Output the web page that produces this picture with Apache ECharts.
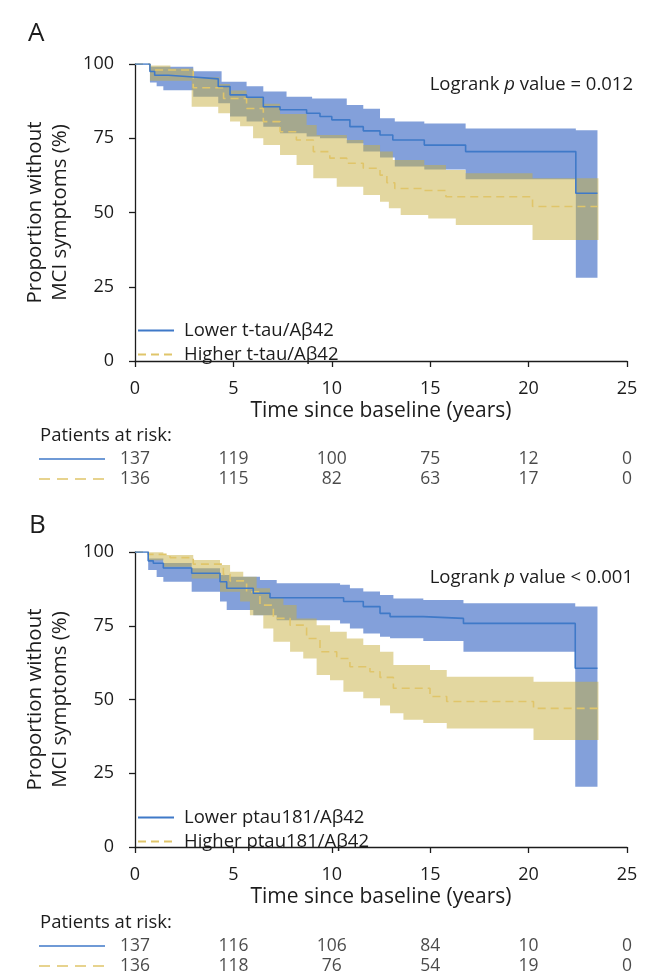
<!DOCTYPE html>
<html>
<head>
<meta charset="utf-8">
<script src="https://cdn.jsdelivr.net/npm/echarts@6/dist/echarts.min.js"></script>
<style>
  html, body { margin: 0; padding: 0; background: #fff; }
  #chart { width: 649px; height: 978px; }
</style>
</head>
<body>
<div id="chart"></div>
<script>
// step curves: [time (years), % without MCI symptoms], value holds until next point
const A_LOW_EST = [[0,100],[0.76,97.5],[1.0,96.2],[1.7,95.6],[2.96,95],[4.23,92.4],[4.83,89.6],[5.67,88.8],[6.52,85.6],[7.37,84.6],[8.72,83.4],[9.4,82.3],[10.0,81.2],[10.92,78.9],[11.6,77.5],[12.45,76.1],[13.1,74.4],[14.7,72.7],[16.8,70.5],[22.4,56.5],[23.5,56.5]]
const A_LOW_UP = [[0,100],[0.76,99.1],[2.96,97.6],[4.4,94],[5.67,92.5],[6.52,90.7],[7.7,89],[9.0,88.4],[10.76,86.2],[11.6,84.9],[12.45,81.7],[13.2,80.6],[14.7,80],[16.8,78.3],[22.4,77.7],[23.5,77.7]]
const A_LOW_LO = [[0,100],[0.76,93.8],[1.1,92.5],[1.44,91.2],[2.96,89],[4.23,86.8],[4.83,82.3],[5.67,80.6],[6.52,78.9],[7.37,76.7],[8.72,75.6],[9.4,75],[10.76,73.3],[11.6,70.5],[12.45,68.5],[13.2,65.5],[14.7,64.5],[16.8,61.2],[22.4,28],[23.5,28]]
const A_HIGH_EST = [[0,100],[0.76,98],[2.96,92],[4.5,88.4],[5.67,85],[6.52,80.6],[7.37,77.2],[8.2,74.4],[9.06,70.5],[9.9,68.3],[10.76,66.6],[11.6,64.9],[12.45,62.6],[12.8,60],[13.2,58.1],[14.7,57.4],[15.8,55.3],[20.2,52],[23.5,52]]
const A_HIGH_UP = [[0,100],[0.76,99.5],[1.8,98.5],[2.96,95.5],[4.3,93.3],[4.83,91.1],[5.67,88.8],[6.52,86.6],[7.37,83.2],[8.72,79.5],[9.23,76.1],[10.76,74.4],[11.6,72.7],[12.45,70.5],[13.1,67.7],[14.7,66],[15.8,64.3],[16.8,63.2],[20.2,61.5],[23.55,61.5]]
const A_HIGH_LO = [[0,100],[0.76,94.4],[2.88,85.6],[4.23,83.4],[4.83,80.6],[5.34,79],[6.0,75],[6.52,72.7],[7.37,69.4],[8.21,66],[9.06,61.5],[10.25,58.7],[11.6,55.9],[12.45,53.6],[12.9,51.4],[13.5,49.2],[14.9,48],[16.3,45.8],[20.2,40.7],[23.55,40.7]]

const B_LOW_EST = [[0,100],[0.67,97],[0.93,96.2],[1.44,94.6],[2.88,92.8],[4.32,89.9],[4.66,87.7],[6.01,86],[6.86,84.5],[10.6,83.2],[11.6,81.5],[12.45,79.2],[12.96,78.1],[14.65,77.5],[16.69,75.8],[22.37,60.6],[23.5,60.6]]
const B_LOW_UP = [[0,100],[0.67,97.8],[1.44,96.3],[2.88,94.5],[4.32,92.2],[4.83,91.6],[6.35,90.5],[7.2,89.4],[10.42,88.9],[10.92,87.7],[11.6,86.6],[12.45,85.4],[13.13,84.2],[14.65,83.7],[16.69,82.6],[22.37,81.5],[23.5,81.5]]
const B_LOW_LO = [[0,100],[0.67,93.9],[1.1,91.5],[1.44,89.9],[2.88,86.5],[4.32,83.2],[4.66,80.3],[6.01,78.6],[7.2,76.9],[10.42,75.8],[10.92,74.1],[11.6,72.4],[12.45,71.3],[12.96,70.8],[14.65,69.8],[16.69,66.2],[22.37,20.4],[23.5,20.4]]
const B_HIGH_EST = [[0,100],[0.67,99.2],[1.78,98.1],[2.96,95.9],[4.49,92.4],[4.83,90.2],[5.67,86.5],[6.35,82],[7.03,77.5],[7.88,75.2],[8.72,70.7],[9.4,66.2],[10.25,63.9],[10.92,61.1],[11.94,59.4],[12.45,57.5],[13.13,53.8],[14.99,51],[15.84,49.3],[20.25,47],[23.55,47]]
const B_HIGH_UP = [[0,100],[0.67,99.9],[1.44,99],[2.96,97.3],[4.32,95.6],[4.83,93.3],[5.5,91.6],[6.18,87.7],[6.86,84.3],[7.54,82],[8.21,77.5],[9.23,75.2],[9.91,73],[10.76,70.7],[11.6,68.5],[12.45,66.2],[13.13,61.7],[14.99,60],[15.84,57.7],[20.25,56],[23.55,56]]
const B_HIGH_LO = [[0,100],[0.67,97.2],[1.44,95],[2.88,91],[4.32,86.5],[5.34,83.2],[5.84,78.6],[6.52,74.1],[7.03,69.6],[7.88,66.2],[8.55,63.9],[9.23,58.3],[9.91,56.5],[10.59,52.6],[11.6,50.4],[12.45,48],[12.96,45.3],[13.64,43.1],[14.65,42],[15.84,40.2],[20.25,36.3],[23.55,36.3]]

const RISK_TIMES = [0, 5, 10, 15, 20, 25]
const A_RISK_LOW = [137, 119, 100, 75, 12, 0]
const A_RISK_HIGH = [136, 115, 82, 63, 17, 0]
const B_RISK_LOW = [137, 116, 106, 84, 10, 0]
const B_RISK_HIGH = [136, 118, 76, 54, 19, 0]
const RISK_ROWS = ['lower', 'higher']

const A_NAMES = ['Lower t-tau/Aβ42', 'Higher t-tau/Aβ42']
const B_NAMES = ['Lower ptau181/Aβ42', 'Higher ptau181/Aβ42']

const FONT = '"Open Sans", sans-serif'
const INK = '#1c1c1c'
const BLUE = '#3f79c8'
const YELLOW = '#e0c56a'
const BLUE_BAND = 'rgba(20,75,185,0.53)'
const YELLOW_BAND = 'rgba(200,176,66,0.5)'
const DASH = [8, 5]

function stepPoints(arr, api) {
  const pts = []
  for (let i = 0; i < arr.length; i++) {
    pts.push(api.coord([arr[i][0], arr[i][1]]))
    if (i + 1 < arr.length) pts.push(api.coord([arr[i + 1][0], arr[i][1]]))
  }
  return pts
}

function band(ax, lower, upper, fill, z) {
  return {
    type: 'custom',
    xAxisIndex: ax, yAxisIndex: ax,
    silent: true,
    z: z,
    data: [0],
    renderItem: function (params, api) {
      const pts = stepPoints(upper, api).concat(stepPoints(lower, api).reverse())
      return { type: 'polygon', shape: { points: pts }, style: { fill: fill } }
    }
  }
}

function curve(ax, name, data, color, dashed) {
  return {
    type: 'line', name: name,
    xAxisIndex: ax, yAxisIndex: ax,
    data: data, step: 'end', symbol: 'none',
    lineStyle: { color: color, width: 1.6, type: dashed ? DASH : 'solid' },
    itemStyle: { color: color },
    z: dashed ? 4 : 5
  }
}

function risk(ax, low, high) {
  const data = []
  RISK_TIMES.forEach((t, i) => {
    data.push([t, RISK_ROWS[0], low[i]])
    data.push([t, RISK_ROWS[1], high[i]])
  })
  return {
    type: 'scatter', xAxisIndex: ax, yAxisIndex: ax,
    symbolSize: 0, silent: true, data: data,
    label: {
      show: true, position: 'inside',
      formatter: p => String(p.value[2]),
      fontSize: 17.5, color: INK, fontFamily: FONT
    }
  }
}

const axisStyle = { lineStyle: { color: INK, width: 1.3 } }

function mainX() {
  return {
    type: 'value', min: 0, max: 25, interval: 5, offset: 11,
    axisLine: axisStyle, axisTick: { length: 6, lineStyle: { color: INK, width: 1.3 } },
    axisLabel: { fontSize: 18, color: INK, fontFamily: FONT, margin: 8 },
    splitLine: { show: false },
    name: 'Time since baseline (years)', nameLocation: 'middle', nameGap: 29,
    nameTextStyle: { fontSize: 21, color: INK, fontFamily: FONT }
  }
}
function mainY() {
  return {
    type: 'value', min: 0, max: 100, interval: 25, offset: 11,
    axisLine: { show: true, lineStyle: { color: INK, width: 1.3 } },
    axisTick: { show: true, length: 6, lineStyle: { color: INK, width: 1.3 } },
    axisLabel: { fontSize: 18, color: INK, fontFamily: FONT, margin: 10 },
    splitLine: { show: false },
    name: 'Proportion without\nMCI symptoms (%)', nameLocation: 'middle', nameGap: 48,
    nameTextStyle: { fontSize: 20.5, lineHeight: 25, color: INK, fontFamily: FONT }
  }
}
function riskX() { return { type: 'value', min: 0, max: 25, show: false } }
function riskY() { return { type: 'category', data: RISK_ROWS, inverse: true, show: false } }

function legend(names, top) {
  return {
    data: names, orient: 'vertical', left: 137, top: top, padding: 0,
    itemWidth: 36, itemHeight: 14, itemGap: 5,
    itemStyle: { opacity: 0 },
    textStyle: { fontSize: 18.5, lineHeight: 18, color: INK, fontFamily: FONT, padding: [0, 0, 0, 5] }
  }
}

function logrank(text, y) {
  return {
    type: 'text', x: 633, y: y,
    style: {
      text: '{n|Logrank }{i|p}{n| ' + text + '}',
      align: 'right', verticalAlign: 'middle',
      rich: {
        n: { fontSize: 18.5, fill: INK, fontFamily: FONT },
        i: { fontSize: 18.5, fill: INK, fontFamily: FONT, fontStyle: 'italic' }
      }
    }
  }
}

function riskHeader(y) {
  return [
    { type: 'text', x: 40, y: y - 23, style: { text: 'Patients at risk:', fontSize: 18.5, fill: INK, fontFamily: FONT, verticalAlign: 'middle' } },
    { type: 'line', shape: { x1: 39, y1: y, x2: 105, y2: y }, style: { stroke: BLUE, lineWidth: 1.6 } },
    { type: 'line', shape: { x1: 39, y1: y + 20, x2: 105, y2: y + 20 }, style: { stroke: YELLOW, lineWidth: 1.6, lineDash: [11, 7] } }
  ]
}

const chart = echarts.init(document.getElementById('chart'))
chart.setOption({
  animation: false,
  backgroundColor: '#fff',
  grid: [
    { left: 135, right: 22, top: 64, height: 297 },
    { left: 135, right: 22, top: 449, height: 40 },
    { left: 135, right: 22, top: 552, height: 295 },
    { left: 135, right: 22, top: 936, height: 40 }
  ],
  xAxis: [
    Object.assign(mainX(), { gridIndex: 0 }),
    Object.assign(riskX(), { gridIndex: 1 }),
    Object.assign(mainX(), { gridIndex: 2 }),
    Object.assign(riskX(), { gridIndex: 3 })
  ],
  yAxis: [
    Object.assign(mainY(), { gridIndex: 0 }),
    Object.assign(riskY(), { gridIndex: 1 }),
    Object.assign(mainY(), { gridIndex: 2 }),
    Object.assign(riskY(), { gridIndex: 3 })
  ],
  legend: [legend(A_NAMES, 321), legend(B_NAMES, 808)],
  graphic: [
    { type: 'text', x: 28, y: 34, style: { text: 'A', fontSize: 26, fill: INK, fontFamily: FONT, verticalAlign: 'middle' } },
    { type: 'text', x: 29, y: 526, style: { text: 'B', fontSize: 26, fill: INK, fontFamily: FONT, verticalAlign: 'middle' } },
    logrank('value = 0.012', 85),
    logrank('value < 0.001', 578)
  ].concat(riskHeader(459), riskHeader(946)),
  series: [
    band(0, A_LOW_LO, A_LOW_UP, BLUE_BAND, 1),
    band(0, A_HIGH_LO, A_HIGH_UP, YELLOW_BAND, 2),
    curve(0, A_NAMES[1], A_HIGH_EST, YELLOW, true),
    curve(0, A_NAMES[0], A_LOW_EST, BLUE, false),
    risk(1, A_RISK_LOW, A_RISK_HIGH),
    band(2, B_LOW_LO, B_LOW_UP, BLUE_BAND, 1),
    band(2, B_HIGH_LO, B_HIGH_UP, YELLOW_BAND, 2),
    curve(2, B_NAMES[1], B_HIGH_EST, YELLOW, true),
    curve(2, B_NAMES[0], B_LOW_EST, BLUE, false),
    risk(3, B_RISK_LOW, B_RISK_HIGH)
  ]
})
</script>
</body>
</html>
